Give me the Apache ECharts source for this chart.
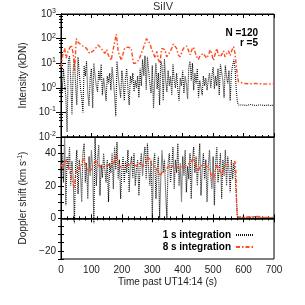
<!DOCTYPE html>
<html><head><meta charset="utf-8">
<script src="https://cdn.jsdelivr.net/npm/echarts@6/dist/echarts.min.js"></script>
<style>html,body{margin:0;padding:0;background:#fff}#c{width:305px;height:305px}</style>
</head><body><div id="c"></div>
<script>
// 1 s integration samples (time, s)
const blackT = [
0,4,8,12,16,20,24,28,32,36,
40,44,48,52,56,60,64,68,72,76,
80,84,88,92,96,100,104,108,112,116,
120,124,128,132,136,140,144,148,152,156,
160,164,168,172,176,180,184,188,192,196,
200,204,208,212,216,220,224,228,232,236,
240,244,248,252,256,260,264,268,272,276,
280,284,288,292,296,300,304,308,312,316,
320,324,328,332,336,340,344,348,352,356,
360,364,368,372,376,380,384,388,392,396,
400,404,408,412,416,420,424,428,432,436,
440,444,448,452,456,460,464,468,472,476,
480,484,488,492,496,500,504,508,512,516,
520,524,528,532,536,540,544,548,552,556,
560,564,568,572,576,580,
584,590,600,610,620,630,640,650,660,670,680,690,700];
// 1 s integration intensity (kDN)
const blackI = [
3,0.8,6,1.5,0.4,0.016,12,20,2,0.08,
5,15,1.2,0.2,18,4,1,0.4,0.1,8,
3,12,0.6,0.18,2.5,6,0.15,10,3,1.2,
0.7,5,2,9,0.5,2.5,1,0.3,3,1.5,
4,0.8,7,2,0.5,0.07,12,3,1,0.4,
5,1.5,0.3,2.5,6,0.9,0.2,3,1.5,4,
0.7,2,1,3,0.4,6,1.2,14,3,20,
0.8,18,5,1.5,0.6,8,0.15,2,10,0.9,
4,0.2,12,8,0.3,15,2,0.7,5,1.2,
3,0.5,9,2,1,4,0.8,0.3,2.5,1.2,
5,0.6,3,1.5,0.35,7,12,2,10,0.8,
4,1.5,6,0.4,2,1,0.5,3,1.2,2.5,
0.8,2,4,1,3,7,0.9,3,1.2,6,
0.5,9,10,2,0.4,8,3,1.5,5,0.3,
4,8,14,6,0.8,0.25,
0.2,0.18,0.2,0.19,0.21,0.2,0.19,0.2,0.2,0.19,0.2,0.19,0.2];
// 1 s integration Doppler shift (km/s)
const blackV = [
28,40,22,50,8,38,30,44,20,35,
25,-3,32,42,15,36,28,10,40,46,
22,34,12,38,26,42,30,-3,50,20,
36,45,14,33,25,40,30,22,36,10,
34,28,40,18,44,30,47,24,36,12,
30,38,22,35,28,42,16,33,38,25,
40,20,30,36,14,32,40,26,38,44,
24,46,30,20,36,0,34,40,12,30,
38,0,25,42,28,36,15,0,34,40,
22,32,44,18,36,28,46,20,34,10,
38,26,42,16,32,24,40,12,36,44,
28,38,20,34,46,14,30,40,24,36,
10,32,42,26,18,38,8,34,44,22,
30,40,12,36,26,42,20,38,30,16,
36,24,34,28,14,0.5,
0.5,0.8,0.5,0.7,0.6,0.9,1,0.7,0.5,0.6,0.5,0.4,0.4];
// 8 s integration intensity
const redIT = [0,6,12,17,23,28,34,40,45,50,56,62,72,84,94,100,110,122,132,144,150,155,165,172,182,188,198,209,220,231,238,245,252,260,270,281,287,293,298,304,309,315,320,325,331,336,342,347,353,358,364,369,375,380,385,391,402,407,413,418,424,430,435,440,446,451,457,462,467,473,479,485,490,495,501,506,512,517,523,528,534,539,545,550,556,561,567,572,578,583,589,600,620,640,660,680,700];
const redI = [7,22,40,16,32,40,55,25,5,100,70,60,50,40,25,22,35,55,40,25,35,22,13,40,150,30,13,40,45,40,10,10,12,18,40,100,120,60,35,25,16,30,14,10,40,45,35,18,22,30,40,60,60,40,22,18,40,40,50,35,22,35,45,40,18,14,20,18,25,30,16,22,35,25,13,22,40,22,18,22,32,18,25,32,20,32,47,25,4.5,1.8,1.5,1.5,1.45,1.5,1.45,1.4,1.5];
// 8 s integration Doppler shift
const redVT = [0,7,12,17,23,28,34,39,43,47,50,56,61,67,73,78,83,89,95,100,106,111,116,122,128,133,144,155,166,176,182,187,193,204,214,225,232,238,249,260,271,282,287,293,298,309,320,326,331,342,353,358,369,380,391,402,413,424,435,440,446,451,457,462,468,473,479,490,495,501,506,512,517,523,528,534,539,545,550,556,561,567,572,575,578,583,590,600,615,630,645,660,675,690,700];
const redV = [33,31,34,36,33,29,26,22,18.5,24,29,32,30,33,37,35,32,29,29,30,33,34,36,33,32,31,32,33,32,35,39,35,32,31,32,33,34,33,32,34,32,35,38,36,33,31,29,26,28,29,32,33,32,31,32,31,33,34,37,34,31,29,32,31,33,34,32,29,26,24,29,33,33,29,26,31,33,32,33,32,34,34,35,28,1,0.3,0.5,0.4,0.8,0.6,1.2,0.8,0.5,0.6,0.6];

const xTicks = [0,100,200,300,400,500,600,700];
const dopplerLabels = [-20,0,20,40];

const zip = (a,b) => a.slice(0, Math.min(a.length,b.length)).map((t,i)=>[t,b[i]]);
const FONT = 'Liberation Sans';
const TXT = '#222';
const BLACK = '#111';
const RED = '#ff4a1a';

const chart = echarts.init(document.getElementById('c'), null, {renderer:'canvas'});
const baseX = {
  type:'value', min:0, max:700, interval:100,
  axisLine:{lineStyle:{color:'#000', width:1}},
  axisTick:{inside:true, length:4, lineStyle:{color:'#000'}},
  minorTick:{show:true, splitNumber:5, length:2, lineStyle:{color:'#000'}},
  splitLine:{show:false}, axisLabel:{show:false}
};
const supRich = {s:{fontSize:7, fontFamily:FONT, color:TXT, padding:[0,0,6,0]}, n:{fontSize:10, fontFamily:FONT, color:TXT}};
chart.setOption({
  animation:false,
  grid:[
    {left:61, right:31, top:14, height:123, show:true, borderColor:'#000', borderWidth:1},
    {left:61, right:31, top:137, height:122, show:true, borderColor:'#000', borderWidth:1}
  ],
  xAxis:[
    Object.assign({}, baseX, {gridIndex:0}),
    Object.assign({}, baseX, {gridIndex:0, position:'top'}),
    Object.assign({}, baseX, {gridIndex:1,
      axisLabel:{show:true, fontFamily:FONT, fontSize:10, color:TXT, margin:6,
        formatter: v => xTicks.includes(v) ? String(v) : ''},
      name:'Time past UT14:14 (s)', nameLocation:'middle', nameGap:18,
      nameTextStyle:{fontFamily:FONT, fontSize:10, color:TXT}}),
    Object.assign({}, baseX, {gridIndex:1, position:'top'})
  ],
  yAxis:[
    {gridIndex:0, type:'log', logBase:10, min:0.01, max:1000,
      axisLine:{lineStyle:{color:'#000'}},
      axisTick:{inside:true, length:5, lineStyle:{color:'#000'}},
      minorTick:{show:true, splitNumber:5, length:2, lineStyle:{color:'#000'}},
      splitLine:{show:false},
      axisLabel:{fontFamily:FONT, fontSize:10, color:TXT, margin:5,
        formatter: v => '{n|10}{s|' + Math.round(Math.log10(v)) + '}', rich:supRich},
      name:'Intensity (kDN)', nameLocation:'middle', nameGap:28,
      nameTextStyle:{fontFamily:FONT, fontSize:10, color:TXT}},
    {gridIndex:0, type:'log', logBase:10, min:0.01, max:1000, position:'right',
      axisLine:{lineStyle:{color:'#000'}},
      axisTick:{inside:true, length:5, lineStyle:{color:'#000'}},
      minorTick:{show:true, splitNumber:5, length:2, lineStyle:{color:'#000'}},
      splitLine:{show:false}, axisLabel:{show:false}},
    {gridIndex:1, type:'value', min:-25, max:50, interval:5,
      axisLine:{lineStyle:{color:'#000'}},
      axisTick:{inside:true, length:3, lineStyle:{color:'#000'}},
      splitLine:{show:false},
      axisLabel:{fontFamily:FONT, fontSize:10, color:TXT, margin:5,
        formatter: v => dopplerLabels.includes(v) ? String(v).replace('-', '\u2212') : ''},
      name:'Doppler shift (km s{s|-1})', nameLocation:'middle', nameGap:28,
      nameTextStyle:{fontFamily:FONT, fontSize:10, color:TXT, rich:{s:{fontSize:7, fontFamily:FONT, color:TXT, padding:[0,0,6,0]}}}},
    {gridIndex:1, type:'value', min:-25, max:50, interval:5, position:'right',
      axisLine:{lineStyle:{color:'#000'}},
      axisTick:{inside:true, length:3, lineStyle:{color:'#000'}},
      splitLine:{show:false}, axisLabel:{show:false}}
  ],
  legend:{
    data:['1 s integration','8 s integration'],
    orient:'vertical', align:'right', right:46, top:225,
    itemWidth:17, itemHeight:8, itemGap:2,
    itemStyle:{opacity:0},
    textStyle:{fontFamily:FONT, fontSize:10, fontWeight:'bold', color:'#000'}
  },
  series:[
    {name:'1 s integration', type:'line', xAxisIndex:0, yAxisIndex:0, data:zip(blackT, blackI),
      showSymbol:false, symbol:'none', lineStyle:{color:BLACK, width:1.1, type:[1,1]}, itemStyle:{color:BLACK}},
    {name:'8 s integration', type:'line', xAxisIndex:0, yAxisIndex:0, data:zip(redIT, redI),
      showSymbol:false, symbol:'none', lineStyle:{color:RED, width:1.4, type:[4,2,1.5,2]}, itemStyle:{color:RED}},
    {name:'1 s integration', type:'line', xAxisIndex:2, yAxisIndex:2, data:zip(blackT, blackV),
      showSymbol:false, symbol:'none', lineStyle:{color:BLACK, width:1.1, type:[1,1]}, itemStyle:{color:BLACK},
      markLine:{silent:true, symbol:'none', label:{show:false}, lineStyle:{color:'#000', width:1.5, type:'solid'}, data:[{yAxis:0}]}},
    {name:'8 s integration', type:'line', xAxisIndex:2, yAxisIndex:2, data:zip(redVT, redV),
      showSymbol:false, symbol:'none', lineStyle:{color:RED, width:1.4, type:[4,2,1.5,2]}, itemStyle:{color:RED}}
  ],
  graphic:[
    {type:'text', x:163, y:7, style:{text:'SiIV', textAlign:'center', textVerticalAlign:'middle', font:'11px "Liberation Sans"', fill:'#333'}},
    {type:'text', x:258, y:33, style:{text:'N =120', textAlign:'right', textVerticalAlign:'middle', font:'bold 10px "Liberation Sans"', fill:'#000'}},
    {type:'text', x:258, y:43, style:{text:'r =5', textAlign:'right', textVerticalAlign:'middle', font:'bold 10px "Liberation Sans"', fill:'#000'}}
  ]
});
</script></body></html>
